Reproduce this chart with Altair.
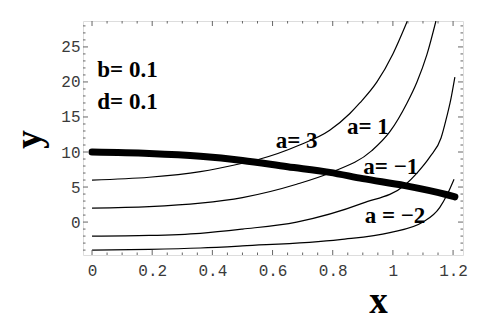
import altair as alt
import pandas as pd

# ---- data ----
thick_x = [0, 0.19, 0.36, 0.5, 0.65, 0.79, 0.9, 1.04, 1.18, 1.206]
thick_y = [10, 9.8, 9.4, 8.8, 7.9, 7.1, 6.2, 5.2, 3.9, 3.6]

a3_x = [0, 0.19, 0.36, 0.5, 0.55, 0.69, 0.79, 0.857, 0.89, 0.947, 1.0, 1.048]
a3_y = [6, 6.4, 7.2, 8.4, 8.9, 11.0, 13.1, 15.5, 17.0, 20.0, 24.0, 28.7]

a1_x = [0, 0.19, 0.36, 0.5, 0.68, 0.79, 0.93, 0.99, 1.047, 1.08, 1.113, 1.143]
a1_y = [2, 2.2, 2.7, 3.5, 5.4, 7.0, 10.2, 12.9, 17.0, 20.0, 23.9, 28.7]

am1_x = [0, 0.19, 0.36, 0.5, 0.68, 0.9, 1.04, 1.08, 1.123, 1.16, 1.18, 1.19, 1.206]
am1_y = [-2, -1.9, -1.6, -1.0, 0.0, 2.7, 5.3, 7.0, 9.3, 12.0, 15.2, 17.0, 20.7]

am2_x = [0, 0.19, 0.36, 0.5, 0.824, 0.99, 1.1, 1.156, 1.18, 1.203]
am2_y = [-4, -3.9, -3.7, -3.4, -2.5, -1.5, 0.0, 2.1, 3.9, 6.1]

label_text = ["a= 3", "a= 1", "a= \u22121", "a = \u22122"]
label_x = [0.68, 0.917, 0.993, 1.007]
label_y = [11.6, 13.5, 7.8, 0.93]

param_text = ["b= 0.1", "d= 0.1"]
param_x = [0.118, 0.118]
param_y = [21.7, 17.1]

x_major = [0, 0.2, 0.4, 0.6, 0.8, 1.0, 1.2]
x_minor = [0.05, 0.1, 0.15, 0.25, 0.3, 0.35, 0.45, 0.5, 0.55, 0.65, 0.7, 0.75,
           0.85, 0.9, 0.95, 1.05, 1.1, 1.15]
y_major = [0, 5, 10, 15, 20, 25]
y_minor = [-4, -3, -2, -1, 1, 2, 3, 4, 6, 7, 8, 9, 11, 12, 13, 14, 16, 17, 18, 19,
           21, 22, 23, 24, 26, 27, 28]

X_DOMAIN = [-0.03, 1.233]
Y_DOMAIN = [-4.7, 28.7]
W, H = 380, 234

# ---- tables ----
thin_rows = []
for name, xs_, ys_ in [("a3", a3_x, a3_y), ("a1", a1_x, a1_y),
                       ("am1", am1_x, am1_y), ("am2", am2_x, am2_y)]:
    for xv, yv in zip(xs_, ys_):
        thin_rows.append({"x": xv, "y": yv, "curve": name})
thin_df = pd.DataFrame(thin_rows)
thick_df = pd.DataFrame({"x": thick_x, "y": thick_y})
labels_df = pd.DataFrame({"x": label_x, "y": label_y, "t": label_text})
params_df = pd.DataFrame({"x": param_x, "y": param_y, "t": param_text})

xs = alt.Scale(domain=X_DOMAIN, nice=False, zero=False)
ys = alt.Scale(domain=Y_DOMAIN, nice=False, zero=False)

x_axis = alt.Axis(values=x_major, format="~g", labelFont="Liberation Mono",
                  labelFontSize=16, labelColor="#3a3a3a", ticks=False, domain=False,
                  grid=False, labelPadding=7, labelFlush=False,
                  title="x", titleFont="Liberation Serif", titleFontSize=37,
                  titleFontWeight="bold", titleColor="black", titleX=295,
                  titleY=57, titleAlign="center", titleBaseline="alphabetic")
y_axis = alt.Axis(values=y_major, format="~g", labelFont="Liberation Mono",
                  labelFontSize=16, labelColor="#3a3a3a", ticks=False, domain=False,
                  grid=False, labelPadding=3, labelFlush=False,
                  title="y", titleFont="Liberation Serif", titleFontSize=37,
                  titleFontWeight="bold", titleColor="black", titleAngle=270,
                  titleX=-43, titleY=118, titleAlign="center",
                  titleBaseline="alphabetic")


def X(field):
    return alt.X(field, scale=xs, axis=x_axis)


def Y(field):
    return alt.Y(field, scale=ys, axis=y_axis)


thin = alt.Chart(thin_df).mark_line(
    color="black", strokeWidth=1.2, interpolate="monotone", clip=True
).encode(x=X("x:Q"), y=Y("y:Q"), detail="curve:N")

thick = alt.Chart(thick_df).mark_line(
    color="black", strokeWidth=7, strokeCap="round", interpolate="monotone"
).encode(x=X("x:Q"), y=Y("y:Q"))

txt_style = dict(font="Liberation Serif", fontSize=23, fontWeight="bold",
                 color="black", align="center", baseline="middle")
labels = alt.Chart(labels_df).mark_text(**txt_style).encode(
    x=X("x:Q"), y=Y("y:Q"), text="t:N")
params = alt.Chart(params_df).mark_text(**txt_style).encode(
    x=X("x:Q"), y=Y("y:Q"), text="t:N")

TICK = "#666"


def xticks(vals, length):
    d = pd.DataFrame({"x": vals})
    bottom = alt.Chart(d).mark_rule(color=TICK, strokeWidth=1).encode(
        x=X("x:Q"), y=alt.value(H), y2=alt.value(H - length))
    top = alt.Chart(d).mark_rule(color=TICK, strokeWidth=1).encode(
        x=X("x:Q"), y=alt.value(0), y2=alt.value(length))
    return [bottom, top]


def yticks(vals, length):
    d = pd.DataFrame({"y": vals})
    left = alt.Chart(d).mark_rule(color=TICK, strokeWidth=1).encode(
        y=Y("y:Q"), x=alt.value(0), x2=alt.value(length))
    right = alt.Chart(d).mark_rule(color=TICK, strokeWidth=1).encode(
        y=Y("y:Q"), x=alt.value(W), x2=alt.value(W - length))
    return [left, right]


tick_layers = xticks(x_major, 5) + xticks(x_minor, 2.5) + yticks(y_major, 5) + yticks(y_minor, 2.5)

chart = alt.layer(
    thin, thick, labels, params, *tick_layers
).properties(
    width=W, height=H,
    padding={"left": 75, "top": 13, "right": 20, "bottom": 59},
    autosize=alt.AutoSizeParams(type="none"),
).configure_view(
    stroke="#666", strokeWidth=1
).configure(background="white")

chart.save("out.html", embed_options={"renderer": "svg", "actions": False})
